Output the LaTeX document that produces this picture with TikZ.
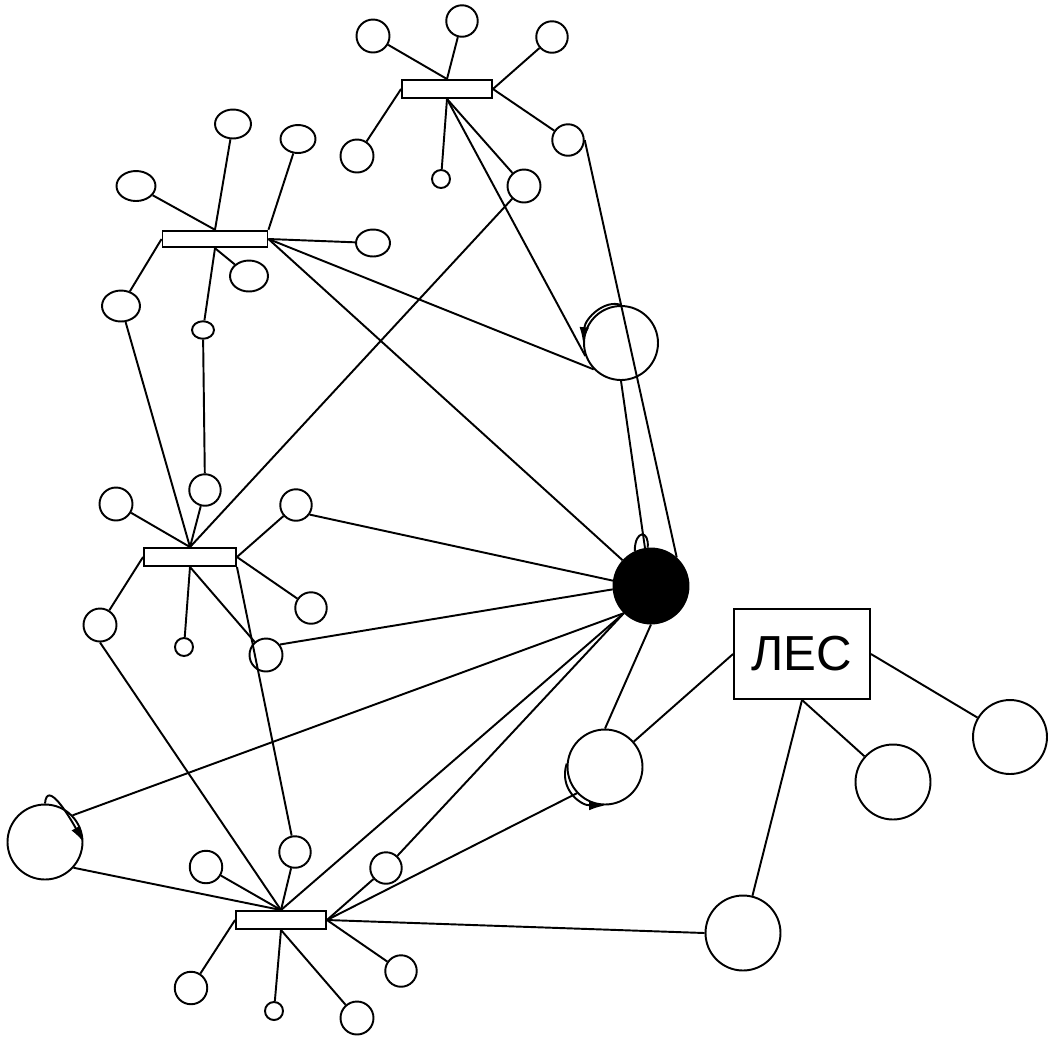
\documentclass[tikz,border=0pt]{standalone}
\usepackage{fontspec}
\setmainfont{Liberation Sans}
\usetikzlibrary{shapes.geometric,arrows.meta}
\begin{document}
\begin{tikzpicture}[x=0.02cm,y=-0.02cm,line width=1.1pt,
    bigc/.style={circle,draw,minimum size=1.5cm,inner sep=0pt},
    midc/.style={circle,draw,minimum size=0.63cm,inner sep=0pt},
    tinyc/.style={circle,draw,minimum size=0.36cm,inner sep=0pt},
    oval/.style={ellipse,draw,inner sep=0pt},
    bar/.style={rectangle,draw,minimum width=1.8cm,minimum height=0.36cm,inner sep=0pt},
    selfarrow/.style={-{Latex[length=9pt,width=5.5pt]}}]
    \useasboundingbox (0,0) rectangle (1048,1036);

    \node[bar] (r1) at (447,89) {};
    \node[midc,minimum size=0.66cm] (a1) at (373,36) {};
    \node[midc] (a2) at (462,21) {};
    \node[midc] (a3) at (552,37) {};
    \node[midc,minimum size=0.66cm] (a4) at (357,156) {};
    \node[tinyc] (a5) at (441,179) {};
    \node[midc,minimum size=0.66cm] (a6) at (524,186) {};
    \node[midc] (a7) at (568,140) {};

    \node[bar,minimum width=2.1cm,minimum height=0.33cm] (r2) at (215,239) {};
    \node[oval,minimum width=0.78cm,minimum height=0.6cm] (b1) at (136,186) {};
    \node[oval,minimum width=0.72cm,minimum height=0.58cm] (b2) at (233,124) {};
    \node[oval,minimum width=0.7cm,minimum height=0.56cm] (b3) at (298,139) {};
    \node[oval,minimum width=0.68cm,minimum height=0.54cm] (b4) at (373,243) {};
    \node[oval,minimum width=0.76cm,minimum height=0.62cm] (b5) at (249,276) {};
    \node[oval,minimum width=0.76cm,minimum height=0.62cm] (b6) at (121,306) {};
    \node[oval,minimum width=0.44cm,minimum height=0.35cm] (b7) at (203,330) {};

    \node[bar,minimum width=1.84cm] (r3) at (190,557) {};
    \node[midc,minimum size=0.66cm] (c1) at (116,504) {};
    \node[midc] (c2) at (205,490) {};
    \node[midc] (c3) at (296,505) {};
    \node[midc] (c4) at (311,608) {};
    \node[midc,minimum size=0.66cm] (c5) at (100,625) {};
    \node[tinyc] (c6) at (184,647) {};
    \node[midc,minimum size=0.66cm] (c7) at (266,655) {};

    \node[bar] (r4) at (281,920) {};
    \node[midc,minimum size=0.65cm] (d1) at (206,867) {};
    \node[midc] (d2) at (295,852) {};
    \node[midc] (d3) at (386,868) {};
    \node[midc] (d4) at (401,971) {};
    \node[midc,minimum size=0.65cm] (d5) at (191,988) {};
    \node[tinyc] (d6) at (274,1011) {};
    \node[midc,minimum size=0.66cm] (d7) at (357,1018) {};

    \node[bigc,minimum size=1.48cm] (L) at (621,343) {};
    \node[bigc,fill=black] (B) at (651,586) {};
    \node[bigc] (D) at (605,767) {};
    \node[bigc] (W) at (45,842) {};
    \node[bigc] (E) at (743,933) {};
    \node[bigc] (F) at (893,782) {};
    \node[bigc,minimum size=1.48cm] (G) at (1010,737) {};
    \node[draw,minimum width=2.72cm,minimum height=1.8cm,inner sep=0pt,font=\fontsize{28}{32}\selectfont] (les) at (802,654) {ЛЕС};

    \draw (a1) -- (r1.north);
    \draw (a2) -- (r1.north);
    \draw (a3) -- (r1.east);
    \draw (a4) -- (r1.west);
    \draw (r1.east) -- (a7);
    \draw (r1.south) -- (a5);
    \draw (r1.south) -- (a6);
    \draw (r1.south) -- (L.200);
    \draw (a7.east) -- (B.48);
    \draw (L.south) -- (B.99);
    \draw[selfarrow] (L.north) .. controls +(-16,-6) and +(2,-25) .. (L.west);

    \draw (b1) -- (r2.north);
    \draw (b2) -- (r2.north);
    \draw (b3) -- (r2.north east);
    \draw (r2.east) -- (b4);
    \draw (r2.east) -- (L.224);
    \draw (r2.east) -- (B);
    \draw (r2.west) -- (b6);
    \draw (r2.south) -- (b5);
    \draw (r2.south) -- (b7);
    \draw (b6) -- (r3.north);
    \draw (b7) -- (c2);
    \draw (a6) -- (r3.north);

    \draw (c1) -- (r3.north);
    \draw (c2) -- (r3.north);
    \draw (r3.east) -- (c3);
    \draw (r3.east) -- (c4);
    \draw (r3.west) -- (c5);
    \draw (r3.south) -- (c6);
    \draw (r3.south) -- (c7);
    \draw (r3.south east) -- (d2);
    \draw (c3.-35) -- (B.172);
    \draw (c7.37) -- (B.185);
    \draw (c5.south) -- (r4.north);

    \draw (d1) -- (r4.north);
    \draw (d2) -- (r4.north);
    \draw (W.-42) -- (r4.north);
    \draw (B.225) -- (r4.north);
    \draw (B.225) -- (d3);
    \draw (d3) -- (r4.east);
    \draw (D.223) -- (r4.east);
    \draw (r4.east) -- (E.west);
    \draw (r4.east) -- (d4);
    \draw (r4.south) -- (d6);
    \draw (r4.south) -- (d7);
    \draw (r4.west) -- (d5);

    \draw (W.44) -- (B.225);
    \draw[selfarrow] (W.north) .. controls +(2,-24) and +(-15,-27) .. (W.east);
    \draw (B.115) .. controls +(0,-22) and +(2,-18) .. (B.95);

    \draw (D.north) -- (B.south);
    \draw (D) -- (les.west);
    \draw[selfarrow] (D.175) .. controls +(-8,25) and +(-25,0) .. (D.south);
    \draw (les.east) -- (G);
    \draw (les.south) -- (F);
    \draw (les.south) -- (E);
\end{tikzpicture}
\end{document}
